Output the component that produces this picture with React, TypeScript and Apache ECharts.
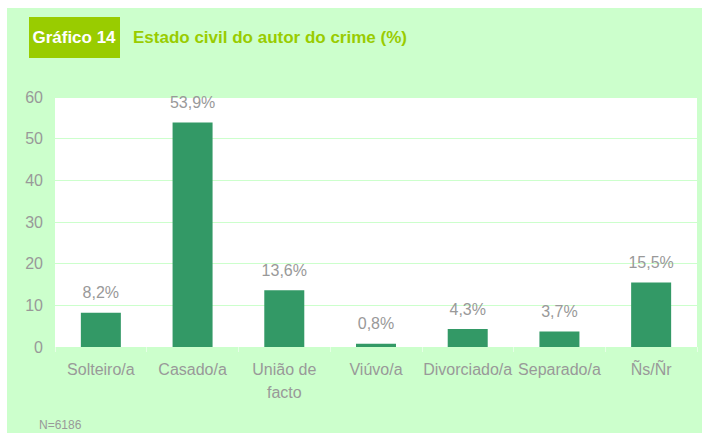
import React, { useEffect, useRef } from "react";
import * as echarts from "echarts";

const categories = ["Solteiro/a", "Casado/a", "União de\nfacto", "Viúvo/a", "Divorciado/a", "Separado/a", "Ñs/Ñr"];
const values = [8.2, 53.9, 13.6, 0.8, 4.3, 3.7, 15.5];
const yTicks = [0, 10, 20, 30, 40, 50, 60];
const chartNumber = "Gráfico 14";
const chartTitle = "Estado civil do autor do crime (%)";
const note = "N=6186";

const FONT = "'Liberation Sans Narrow', 'Arial Narrow', 'Liberation Sans', Arial, sans-serif";

export default function App() {
  const ref = useRef<HTMLDivElement>(null);
  useEffect(() => {
    if (!ref.current) return;
    const chart = echarts.init(ref.current, null, { renderer: "svg" });
    chart.setOption({
      animation: false,
      backgroundColor: "#ffffff",
      graphic: [
        { type: "rect", z: -10, shape: { x: 7, y: 8, width: 695, height: 425 }, style: { fill: "#ccffcc" } },
        { type: "rect", z: -9, shape: { x: 55, y: 97, width: 642, height: 250 }, style: { fill: "#ffffff" } },
        { type: "rect", shape: { x: 29, y: 17, width: 91, height: 41 }, style: { fill: "#99cc00" } },
        {
          type: "text", x: 74, y: 37,
          style: { text: chartNumber, fill: "#ffffff", font: `bold 17px ${FONT}`, align: "center", verticalAlign: "middle" },
        },
        {
          type: "text", x: 133, y: 37,
          style: { text: chartTitle, fill: "#99cc00", font: `bold 17px ${FONT}`, align: "left", verticalAlign: "middle" },
        },
        {
          type: "text", x: 39, y: 425,
          style: { text: note, fill: "#999999", font: `12px ${FONT}`, align: "left", verticalAlign: "middle" },
        },
      ],
      grid: { left: 55, right: 10, top: 97, bottom: 86, containLabel: false },
      xAxis: {
        type: "category",
        data: categories,
        axisLine: { lineStyle: { color: "#ccffcc" } },
        axisTick: { show: true, lineStyle: { color: "#e6ffe6" }, length: 5 },
        axisLabel: {
          color: "#999999", fontSize: 16, fontFamily: FONT, margin: 11, lineHeight: 23, interval: 0,
        },
      },
      yAxis: {
        type: "value",
        min: yTicks[0],
        max: yTicks[yTicks.length - 1],
        interval: 10,
        axisLine: { show: false },
        axisTick: { show: false },
        axisLabel: { color: "#999999", fontSize: 16, fontFamily: FONT, margin: 12 },
        splitLine: { lineStyle: { color: "#ccffcc", width: 1 } },
      },
      series: [
        {
          type: "bar",
          data: values,
          barWidth: 40,
          itemStyle: { color: "#339966" },
          label: {
            show: true,
            position: "top",
            distance: 12,
            color: "#999999",
            fontSize: 16,
            fontFamily: FONT,
            formatter: (p: any) => String(p.value.toFixed(1)).replace(".", ",") + "%",
          },
        },
      ],
    });
    return () => chart.dispose();
  }, []);
  return <div ref={ref} style={{ position: "fixed", left: 0, top: 0, width: 707, height: 433 }} />;
}
